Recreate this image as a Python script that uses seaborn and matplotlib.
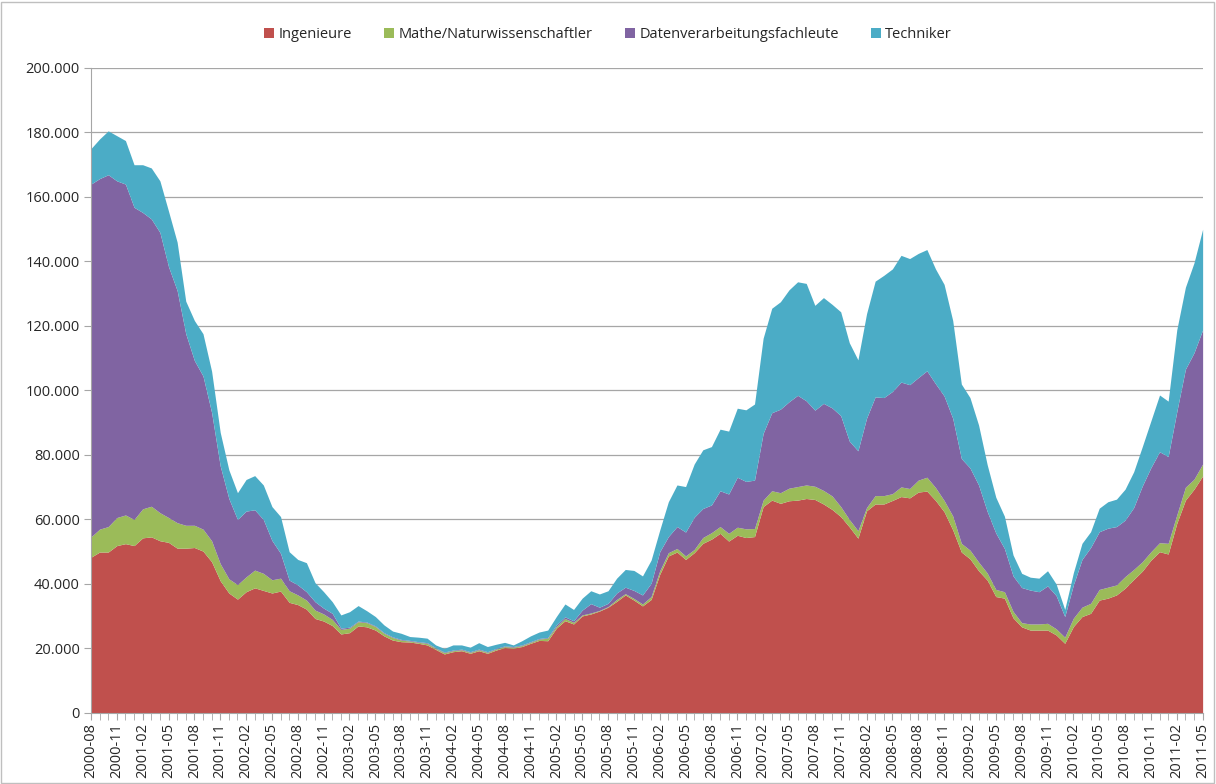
import matplotlib
matplotlib.use("Agg")
import matplotlib.pyplot as plt
import matplotlib.ticker as mticker
import seaborn as sns
import pandas as pd

# months from 2000-08 to 2011-05
months = pd.period_range("2000-08", "2011-05", freq="M").strftime("%Y-%m").tolist()

# values in thousands
ingenieure = [
    48.3, 49.9, 49.9, 51.9, 52.5, 51.9, 54.3, 54.6, 53.4, 52.9,
    51.1, 51.1, 51.3, 50.2, 46.9, 41.0, 37.2, 35.3, 37.6, 38.8,
    38.0, 37.2, 37.8, 34.3, 33.6, 32.2, 29.3, 28.5, 27.1, 24.5,
    24.9, 27.0, 26.7, 25.7, 23.9, 22.6, 22.1, 22.0, 21.6, 21.1,
    19.7, 18.3, 19.0, 19.3, 18.5, 19.3, 18.5, 19.5, 20.3, 20.1,
    20.6, 21.6, 22.5, 22.4, 26.3, 28.6, 27.6, 30.1, 30.7, 31.6,
    32.8, 34.6, 36.6, 35.0, 33.2, 35.2, 43.0, 48.7, 49.9, 47.6,
    49.7, 52.6, 53.9, 55.7, 53.3, 55.1, 54.4, 54.7, 64.0, 66.0,
    65.0, 65.8, 66.0, 66.5, 66.2, 64.8, 63.1, 60.9, 57.7, 54.2,
    62.7, 64.8, 64.8, 65.9, 67.1, 66.7, 68.5, 68.8, 65.9, 62.4,
    56.8, 49.9, 47.8, 44.1, 41.2, 36.1, 35.6, 29.5, 26.7, 25.7,
    25.7, 25.7, 24.2, 21.6, 26.8, 29.9, 30.9, 35.0, 35.6, 36.6,
    38.7, 41.4, 44.0, 47.4, 50.0, 49.3, 58.8, 66.0, 69.4, 73.5,
]
mathe = [
    6.3, 7.1, 7.9, 8.7, 8.9, 8.1, 9.0, 9.5, 8.7, 7.7,
    7.9, 7.1, 6.9, 6.8, 6.5, 5.3, 4.4, 4.5, 4.6, 5.5,
    5.3, 4.1, 4.0, 3.6, 3.0, 2.8, 2.6, 2.2, 1.9, 1.4,
    1.4, 1.3, 1.3, 1.1, 0.8, 0.8, 0.5, 0.3, 0.3, 0.5,
    0.3, 0.4, 0.3, 0.3, 0.3, 0.3, 0.3, 0.3, 0.3, 0.3,
    0.3, 0.3, 0.4, 0.8, 0.5, 0.7, 0.5, 0.3, 0.3, 0.2,
    0.2, 0.6, 0.4, 0.5, 0.6, 0.9, 1.1, 1.0, 1.1, 1.1,
    1.0, 1.8, 2.0, 2.1, 2.4, 2.5, 2.7, 2.5, 2.0, 2.9,
    3.3, 3.9, 4.2, 4.2, 4.1, 4.2, 4.2, 3.1, 2.3, 2.3,
    1.0, 2.6, 2.6, 2.1, 3.0, 2.9, 3.7, 4.3, 4.0, 3.5,
    4.3, 2.7, 2.7, 2.7, 2.2, 2.2, 2.0, 2.0, 1.3, 1.9,
    1.9, 2.1, 1.9, 1.9, 2.6, 2.9, 3.1, 3.3, 3.4, 3.1,
    3.6, 3.1, 2.9, 2.6, 2.8, 3.3, 2.6, 4.0, 3.1, 3.7,
]
daten = [
    109.4, 108.7, 109.1, 104.4, 102.6, 96.8, 91.9, 89.1, 86.9, 77.8,
    72.0, 59.4, 51.1, 47.5, 39.8, 30.3, 24.9, 20.2, 20.4, 18.7,
    16.7, 12.2, 7.7, 3.3, 3.1, 2.6, 2.6, 1.8, 1.9, 0.4,
    0.3, 0.2, 0.2, 0.2, 0.2, 0.2, 0.2, 0.2, 0.2, 0.2,
    0.2, 0.2, 0.2, 0.2, 0.2, 0.2, 0.2, 0.2, 0.2, 0.2,
    0.2, 0.2, 0.2, 0.2, 0.5, 0.5, 0.5, 1.5, 2.9, 1.0,
    1.0, 2.0, 2.0, 2.5, 2.8, 4.1, 5.9, 5.0, 6.8, 7.4,
    10.0, 9.0, 8.6, 11.1, 12.2, 15.5, 14.7, 15.0, 20.7, 24.2,
    25.9, 26.8, 28.3, 26.1, 23.6, 27.0, 27.3, 28.2, 24.3, 24.8,
    27.7, 30.6, 30.4, 31.7, 32.5, 32.2, 31.8, 33.0, 32.2, 32.4,
    30.3, 26.3, 25.5, 23.9, 19.1, 17.5, 13.4, 11.0, 10.9, 10.5,
    10.0, 11.6, 10.3, 6.4, 10.3, 14.8, 17.3, 17.9, 18.3, 18.1,
    17.5, 19.2, 23.5, 26.1, 28.2, 26.9, 32.0, 36.6, 39.2, 41.6,
]
techniker = [
    11.0, 12.3, 13.6, 14.0, 13.5, 13.2, 14.8, 15.8, 16.0, 17.2,
    15.0, 10.1, 12.4, 13.1, 12.8, 10.4, 8.9, 8.3, 9.8, 10.6,
    10.7, 10.5, 11.4, 8.8, 7.9, 9.0, 5.9, 5.1, 3.6, 4.1,
    4.8, 4.8, 3.5, 2.9, 2.4, 1.8, 1.9, 1.2, 1.4, 1.4,
    0.9, 1.1, 1.6, 1.3, 1.4, 2.0, 1.6, 1.3, 1.1, 0.5,
    1.3, 1.8, 2.0, 2.3, 2.6, 4.0, 3.5, 3.7, 4.0, 4.1,
    3.9, 4.6, 5.5, 6.2, 5.9, 7.2, 6.7, 10.8, 12.9, 14.1,
    16.5, 18.2, 18.1, 19.1, 19.5, 21.4, 22.2, 23.6, 29.5, 32.4,
    33.3, 34.7, 35.2, 36.4, 32.5, 32.8, 32.1, 32.2, 30.5, 28.2,
    32.4, 35.9, 37.9, 38.0, 39.3, 39.1, 38.5, 37.6, 35.6, 34.6,
    30.3, 23.1, 21.8, 18.6, 14.5, 11.1, 10.0, 6.5, 4.4, 4.0,
    4.2, 4.7, 3.6, 2.2, 3.8, 5.0, 4.9, 7.3, 8.2, 8.5,
    9.6, 11.1, 12.2, 14.5, 17.6, 17.2, 25.4, 25.4, 27.9, 31.2,
]

labels = ["Ingenieure", "Mathe/Naturwissenschaftler", "Datenverarbeitungsfachleute", "Techniker"]
colors = ["#C0504D", "#9BBB59", "#8064A2", "#4BACC6"]

df = pd.DataFrame({
    "Monat": months,
    labels[0]: ingenieure,
    labels[1]: mathe,
    labels[2]: daten,
    labels[3]: techniker,
})
df[labels] = df[labels] * 1000

sns.set_style("white")
plt.rcParams["font.family"] = ["Open Sans", "DejaVu Sans"]

fig = plt.figure(figsize=(12.16, 7.84), dpi=100)
ax = fig.add_axes([0.0748, 0.0906, 0.9142, 0.8227])

pos = list(range(len(df)))
ax.stackplot(pos, [df[c] for c in labels], labels=labels, colors=colors, linewidth=0)

ax.set_xlim(0, len(df) - 1)
ax.set_ylim(0, 200000)
ax.yaxis.set_major_locator(mticker.MultipleLocator(20000))
ax.yaxis.set_major_formatter(mticker.FuncFormatter(lambda v, p: f"{int(v):,}".replace(",", ".")))
ax.yaxis.grid(True, color="#A6A6A6", linewidth=0.9)
ax.set_axisbelow(True)

ax.set_xticks(pos[::3])
ax.set_xticklabels(df["Monat"][::3], rotation=90)
ax.set_xticks(pos, minor=True)
ax.tick_params(axis="x", which="both", direction="out", length=5, color="#A6A6A6", bottom=True, labelsize=10.5, pad=2)
ax.tick_params(axis="y", direction="out", length=5, color="#A6A6A6", left=True, labelsize=10.5, pad=3)

for side in ["top", "right"]:
    ax.spines[side].set_visible(False)
for side in ["left", "bottom"]:
    ax.spines[side].set_color("#A6A6A6")

handles, lbls = ax.get_legend_handles_labels()
fig.legend(handles, lbls, loc="center", bbox_to_anchor=(0.5, 0.956), ncol=4, frameon=False,
           fontsize=10.5, handlelength=0.7, handleheight=0.7, handletextpad=0.3, columnspacing=2.2)

fig.patches.append(plt.Rectangle((0.001, 0.001), 0.997, 0.997, transform=fig.transFigure,
                                 fill=False, edgecolor="#BFBFBF", linewidth=1))

fig.savefig("out.png", dpi=100)
